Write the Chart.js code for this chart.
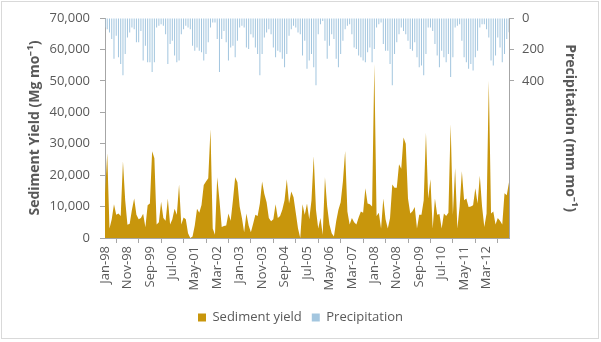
<!DOCTYPE html>
<html>
<head>
<meta charset="utf-8">
<script src="https://cdn.jsdelivr.net/npm/chart.js@4.4.1/dist/chart.umd.min.js"></script>
<style>
  body { margin: 0; background: #fff; }
</style>
</head>
<body>
<canvas id="chart" width="601" height="342"></canvas>
<script>
// monthly series, Jan-98 .. Jan-13
const monthNames = ['Jan', 'Feb', 'Mar', 'Apr', 'May', 'Jun', 'Jul', 'Aug', 'Sep', 'Oct', 'Nov', 'Dec'];
const firstYear = 1998;
const labelEvery = 10;
const lastLabelled = 170; // Mar-12

// Mg per month
const sediment = [
  14000, 27000, 3000, 6000, 10700, 7400, 7800, 7000, 24400, 12000,
  4200, 4500, 9000, 12600, 7400, 6000, 6400, 7700, 3400, 10400,
  11000, 27600, 25400, 4300, 5000, 11500, 6400, 5500, 12600, 4300,
  6000, 9300, 7400, 17000, 4300, 6500, 6000, 1500, 0, 500,
  4000, 9300, 8000, 10500, 16900, 18000, 19000, 34600, 3000, 1000,
  19300, 12000, 3500, 3800, 4000, 7800, 5500, 12000, 19300, 17700,
  10000, 6400, 1800, 7800, 4000, 1800, 4500, 7400, 7000, 11000,
  18000, 14000, 11400, 6400, 5300, 6000, 10700, 6400, 7000, 9000,
  12000, 18700, 11000, 14800, 13000, 8000, 3000, 0, 10700, 7400,
  11000, 6000, 12000, 26000, 9000, 3000, 6400, 1000, 19300, 10000,
  4300, 1500, 500, 5300, 9000, 11400, 18000, 27700, 8400, 4300,
  6400, 5000, 4300, 6500, 8400, 8000, 15800, 11000, 10700, 10000,
  55400, 7000, 8000, 3000, 12600, 6000, 3000, 6400, 17000, 16000,
  16000, 23500, 22000, 32000, 30000, 12600, 7800, 8500, 9900, 3000,
  7400, 7400, 12000, 33500, 12600, 18700, 3000, 12600, 7400, 7600,
  3000, 7800, 7000, 8000, 36200, 7400, 22300, 3000, 10000, 21200,
  12000, 12600, 9900, 10000, 10400, 15800, 11000, 19800, 10000, 3500,
  7800, 50000, 7800, 8400, 4300, 6400, 5500, 4300, 14200, 13600,
  17700
];

// mm per month
const precipitation = [
  61, 71, 92, 134, 260, 113, 250, 292, 365, 229,
  124, 92, 61, 71, 155, 155, 82, 271, 176, 281,
  281, 344, 281, 61, 50, 40, 50, 103, 292, 166,
  145, 239, 281, 271, 103, 71, 50, 61, 71, 176,
  208, 187, 208, 218, 271, 229, 155, 61, 29, 29,
  134, 344, 134, 82, 155, 271, 187, 176, 250, 145,
  61, 50, 61, 187, 197, 103, 124, 187, 229, 365,
  229, 124, 92, 71, 103, 187, 250, 208, 218, 260,
  313, 229, 113, 71, 50, 61, 92, 103, 239, 145,
  323, 271, 229, 313, 428, 103, 40, 19, 145, 260,
  176, 103, 134, 260, 313, 229, 145, 71, 50, 40,
  103, 187, 197, 239, 250, 271, 281, 218, 187, 281,
  197, 61, 40, 29, 166, 208, 208, 292, 428, 229,
  155, 103, 61, 82, 103, 145, 197, 208, 155, 250,
  313, 302, 365, 229, 61, 61, 82, 166, 239, 313,
  208, 250, 281, 229, 376, 250, 61, 50, 40, 145,
  250, 281, 323, 292, 334, 250, 208, 61, 40, 40,
  71, 124, 271, 302, 239, 124, 187, 281, 229, 134,
  90
];

const labels = sediment.map((v, i) =>
  monthNames[i % 12] + '-' + String((firstYear + Math.floor(i / 12)) % 100).padStart(2, '0'));

const axisColor = '#a6a6a6';
const textColor = '#595959';

Chart.defaults.font.family = '"Open Sans", sans-serif';
Chart.defaults.font.size = 13;
Chart.defaults.color = textColor;

const frame = {
  id: 'frame',
  beforeDraw(chart) {
    const ctx = chart.ctx;
    ctx.save();
    ctx.fillStyle = '#fff';
    ctx.fillRect(0, 0, chart.width, chart.height);
    ctx.strokeStyle = '#d9d9d9';
    ctx.lineWidth = 1;
    ctx.strokeRect(1.5, 1.5, chart.width - 4, chart.height - 5);
    ctx.restore();
  }
};

new Chart(document.getElementById('chart'), {
  type: 'bar',
  data: {
    labels: labels,
    datasets: [
      {
        type: 'line',
        label: 'Sediment yield',
        data: sediment,
        yAxisID: 'y',
        backgroundColor: '#c8960c',
        borderColor: '#c8960c',
        borderWidth: 0,
        pointRadius: 0,
        tension: 0,
        fill: 'origin'
      },
      {
        type: 'bar',
        label: 'Precipitation',
        data: precipitation,
        yAxisID: 'y1',
        backgroundColor: '#a3c6df',
        barPercentage: 0.45,
        categoryPercentage: 1
      }
    ]
  },
  options: {
    responsive: false,
    animation: false,
    locale: 'en-US',
    layout: { padding: { top: 18, right: 0, bottom: 8, left: 0 } },
    scales: {
      x: {
        offset: false,
        grid: { drawOnChartArea: false, tickLength: 5, color: axisColor },
        border: { color: axisColor },
        ticks: { autoSkip: false, minRotation: 90, maxRotation: 90, padding: 3 },
        afterBuildTicks: scale => {
          scale.ticks = scale.ticks.filter(t => t.value % labelEvery === 0 && t.value <= lastLabelled);
        },
        afterFit: scale => { scale.height = 63; }
      },
      y: {
        position: 'left',
        min: 0,
        max: 70000,
        ticks: { stepSize: 10000, padding: 10 },
        grid: { drawOnChartArea: false, tickLength: 5, color: axisColor },
        border: { color: axisColor },
        title: {
          display: true,
          text: 'Sediment Yield (Mg mo⁻¹)',
          font: { size: 14, weight: 'bold' },
          padding: { top: 27 }
        },
        afterFit: scale => { scale.width = 105; }
      },
      y1: {
        position: 'right',
        reverse: true,
        min: 0,
        max: 1400,
        ticks: { stepSize: 200, padding: 8 },
        afterBuildTicks: scale => {
          scale.ticks = scale.ticks.filter(t => t.value <= 400);
        },
        grid: { drawOnChartArea: false, tickLength: 5, color: axisColor },
        border: { color: axisColor },
        title: {
          display: true,
          text: 'Precipitation (mm mo⁻¹)',
          font: { size: 14, weight: 'bold' },
          padding: { top: 23 }
        },
        afterFit: scale => { scale.width = 92; }
      }
    },
    plugins: {
      legend: {
        position: 'bottom',
        labels: { boxWidth: 8, boxHeight: 8, padding: 10, font: { size: 13 } }
      },
      tooltip: { enabled: false }
    }
  },
  plugins: [frame]
});
</script>
</body>
</html>
